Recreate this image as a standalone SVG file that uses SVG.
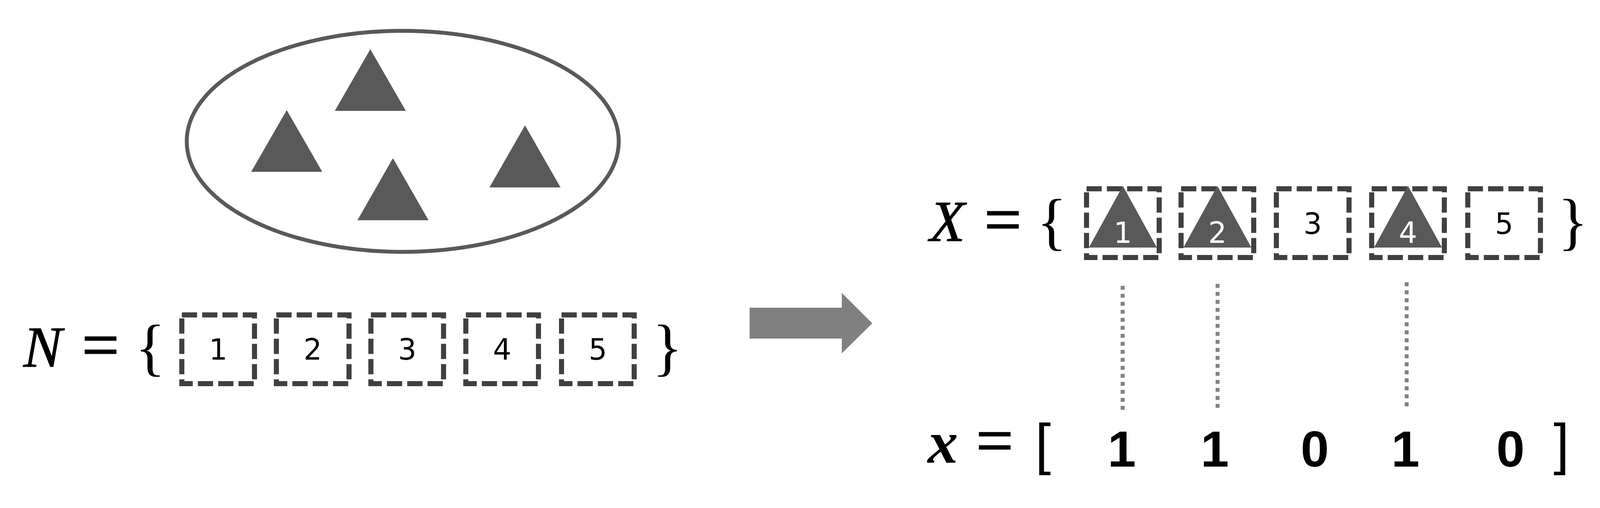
<svg xmlns="http://www.w3.org/2000/svg" width="4189" height="1301" viewBox="0 0 4189 1301">
<style>
.box{fill:none;stroke:#404040;stroke-width:13;stroke-dasharray:39 13}
.tri{fill:#595959}
.num{font-family:"DejaVu Sans",sans-serif;font-size:74px;text-anchor:middle;fill:#000}
.wnum{fill:#fff}
.math{font-family:"Liberation Serif",serif;font-style:italic;font-size:148px;fill:#000;stroke:#000;stroke-width:1.5}
.eq{font-family:"Liberation Serif",serif;font-size:168px;fill:#000;stroke:#000;stroke-width:3}
.brace{font-family:"Liberation Serif",serif;font-size:161px;fill:#000}
.brk{font-family:"Liberation Sans",sans-serif;font-size:145px;fill:#000}
.bit{font-family:"Liberation Sans",sans-serif;font-weight:bold;font-size:130px;text-anchor:middle;fill:#000}
.dot{stroke:#808080;stroke-width:10;stroke-dasharray:10 10.5;fill:none}
</style>
<rect width="4189" height="1301" fill="#fff"/>

<g id="universe">
<ellipse cx="1031" cy="362" rx="553" ry="283" fill="none" stroke="#595959" stroke-width="10"/>
<polygon class="tri" points="948,126 1039,284 857,284"/>
<polygon class="tri" points="734,282 825,440 643,440"/>
<polygon class="tri" points="1006,405 1097,564 915,564"/>
<polygon class="tri" points="1344,321 1435,480 1253,480"/>
</g>

<g id="set-N">
<text class="math" x="60" y="939">N</text>
<text class="eq" x="210" y="940">=</text>
<text class="brace" x="346" y="943">{</text>
<text class="brace" x="1670" y="943">}</text>
</g>
<g id="N1"><rect class="box" x="465.5" y="806.5" width="186" height="176"/><text class="num" x="558.5" y="921">1</text></g>
<g id="N2"><rect class="box" x="707.5" y="806.5" width="186" height="176"/><text class="num" x="800.5" y="921">2</text></g>
<g id="N3"><rect class="box" x="949.5" y="806.5" width="186" height="176"/><text class="num" x="1042.5" y="921">3</text></g>
<g id="N4"><rect class="box" x="1192.5" y="806.5" width="186" height="176"/><text class="num" x="1285.5" y="921">4</text></g>
<g id="N5"><rect class="box" x="1437.5" y="806.5" width="186" height="176"/><text class="num" x="1530.5" y="921">5</text></g>

<g id="set-X">
<text class="math" x="2380" y="617">X</text>
<text class="eq" x="2520" y="619">=</text>
<text class="brace" x="2654" y="621">{</text>
<text class="brace" x="3988" y="621">}</text>
</g>
<g id="X1"><rect class="box" x="2781.5" y="483.5" width="186" height="176"/><polygon class="tri" points="2874.5,476 2961.5,634 2787.5,634"/><text class="num wnum" x="2874.5" y="622">1</text></g>
<g id="X2"><rect class="box" x="3023.5" y="483.5" width="186" height="176"/><polygon class="tri" points="3116.5,476 3203.5,634 3029.5,634"/><text class="num wnum" x="3116.5" y="622">2</text></g>
<g id="X3"><rect class="box" x="3267.5" y="483.5" width="186" height="176"/><text class="num" x="3360.5" y="599">3</text></g>
<g id="X4"><rect class="box" x="3511.5" y="483.5" width="186" height="176"/><polygon class="tri" points="3604.5,476 3691.5,634 3517.5,634"/><text class="num wnum" x="3604.5" y="622">4</text></g>
<g id="X5"><rect class="box" x="3757.5" y="483.5" width="186" height="176"/><text class="num" x="3850.5" y="599">5</text></g>

<g id="vector-x">
<text x="2375" y="1185" style="font-family:'Liberation Serif',serif;font-style:italic;font-weight:bold;font-size:155px">x</text>
<text class="eq" x="2499" y="1185">=</text>
<text class="brk" x="2650" y="1187">[</text>
<text class="bit" x="2872" y="1195">1</text>
<text class="bit" x="3110" y="1195">1</text>
<text class="bit" x="3366" y="1195">0</text>
<text class="bit" x="3598" y="1195">1</text>
<text class="bit" x="3867" y="1195">0</text>
<text class="brk" x="3977" y="1187">]</text>
</g>

<g id="connectors">
<polygon points="1919,788 2155,788 2155,750 2233,828 2155,905 2155,867 1919,867" fill="#808080"/>
<line class="dot" x1="2874" y1="732" x2="2874" y2="1052"/>
<line class="dot" x1="3117" y1="727" x2="3117" y2="1047"/>
<line class="dot" x1="3601" y1="723" x2="3601" y2="1043"/>
</g>
</svg>
